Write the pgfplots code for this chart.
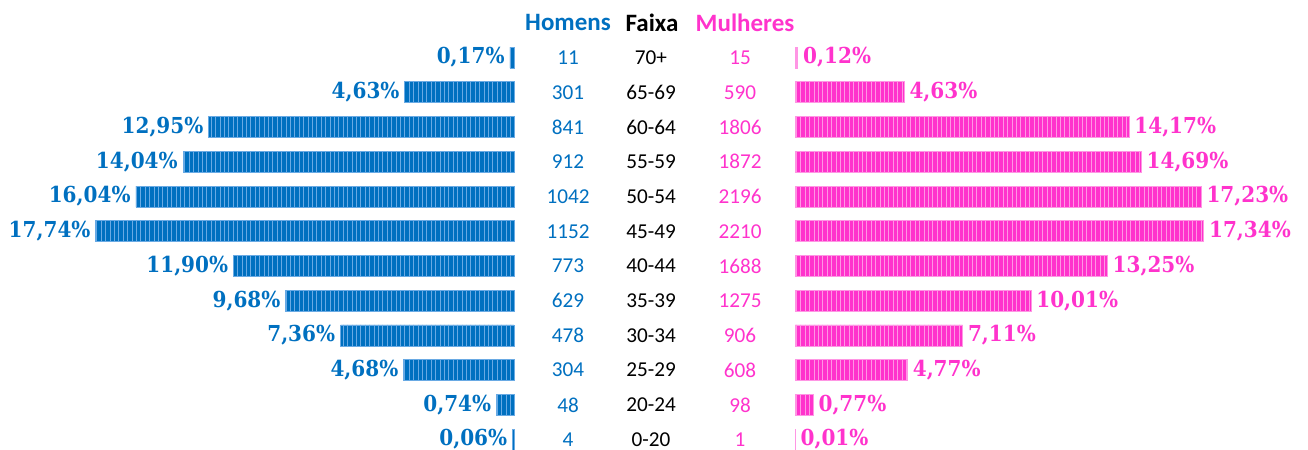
\documentclass[border=0pt]{standalone}
\usepackage{fontspec}
\setmainfont{Carlito}
\newfontfamily\labfont{DejaVu Serif}[BoldFeatures={FakeStretch=0.91}]
\usepackage{pgfplots}
\pgfplotsset{compat=1.18}
\usepackage{pgfplotstable}
\usetikzlibrary{patterns.meta}

\definecolor{hblue}{RGB}{0,112,192}
\definecolor{hstripe}{RGB}{105,170,228}
\definecolor{mpink}{RGB}{255,51,204}
\definecolor{mstripe}{RGB}{255,150,228}

\pgfplotstableread{
row faixa hn mn hp mp
0 70+ 11 15 0.17 0.12
1 65-69 301 590 4.63 4.63
2 60-64 841 1806 12.95 14.17
3 55-59 912 1872 14.04 14.69
4 50-54 1042 2196 16.04 17.23
5 45-49 1152 2210 17.74 17.34
6 40-44 773 1688 11.90 13.25
7 35-39 629 1275 9.68 10.01
8 30-34 478 906 7.36 7.11
9 25-29 304 608 4.68 4.77
10 20-24 48 98 0.74 0.77
11 0-20 4 1 0.06 0.01
}\data

\pgfplotsset{
  base/.style={width=654pt,height=225pt,scale only axis,hide axis,clip=false,
    y dir=reverse,ymin=-1.66,ymax=11.30,at={(0,0)},anchor=south west},
}
\tikzset{
  labfnt/.style={font={\labfont\bfseries\fontsize{11}{13}\selectfont}},
  cntfnt/.style={font={\fontsize{10.6}{12}\selectfont}},
}

\begin{document}
\begin{tikzpicture}
\useasboundingbox (0,0) rectangle (654pt,225pt);

% Men bars
\begin{axis}[base, xmin=-21.807, xmax=33.687, xbar, bar width=10.5pt]
\addplot[fill=hblue, draw=hstripe, line width=0.4pt,
  postaction={pattern={Lines[angle=90,distance=2.2pt,line width=0.45pt]}, pattern color=hstripe},
  point meta=\thisrow{hp},
  nodes near coords={\pgfmathprintnumber[fixed,fixed zerofill,precision=2,use comma,assume math mode=true]{\pgfplotspointmeta}\%},
  every node near coord/.append style={anchor=east,inner sep=0pt,xshift=-2.5pt,text=hblue,labfnt}]
  table[x expr=-\thisrow{hp}, y=row] {\data};
\end{axis}

% Women bars
\begin{axis}[base, xmin=-33.73, xmax=21.765, xbar, bar width=10.5pt]
\addplot[fill=mpink, draw=mstripe, line width=0.4pt,
  postaction={pattern={Lines[angle=90,distance=2.2pt,line width=0.45pt]}, pattern color=mstripe},
  point meta=\thisrow{mp},
  nodes near coords={\pgfmathprintnumber[fixed,fixed zerofill,precision=2,use comma,assume math mode=true]{\pgfplotspointmeta}\%},
  every node near coord/.append style={anchor=west,inner sep=0pt,xshift=2.5pt,text=mpink,labfnt}]
  table[x expr=\thisrow{mp}, y=row] {\data};
\end{axis}

% Text columns
\begin{axis}[base, xmin=0, xmax=1308]
\addplot[mark=none, draw=none, point meta=explicit symbolic,
  nodes near coords, every node near coord/.append style={anchor=center,inner sep=0pt,text=hblue,cntfnt}]
  table[x expr=568, y=row, meta=hn] {\data};
\addplot[mark=none, draw=none, point meta=explicit symbolic,
  nodes near coords, every node near coord/.append style={anchor=center,inner sep=0pt,text=black,cntfnt}]
  table[x expr=651, y=row, meta=faixa] {\data};
\addplot[mark=none, draw=none, point meta=explicit symbolic,
  nodes near coords, every node near coord/.append style={anchor=center,inner sep=0pt,text=mpink,cntfnt}]
  table[x expr=740, y=row, meta=mn] {\data};
\node[text=hblue, font={\bfseries\fontsize{12.5}{14}\selectfont}] at (axis cs:568,-1) {Homens};
\node[text=black, font={\bfseries\fontsize{12.5}{14}\selectfont}] at (axis cs:652,-1) {Faixa};
\node[text=mpink, font={\bfseries\fontsize{12.5}{14}\selectfont}] at (axis cs:745,-1) {Mulheres};
\end{axis}
\end{tikzpicture}
\end{document}
